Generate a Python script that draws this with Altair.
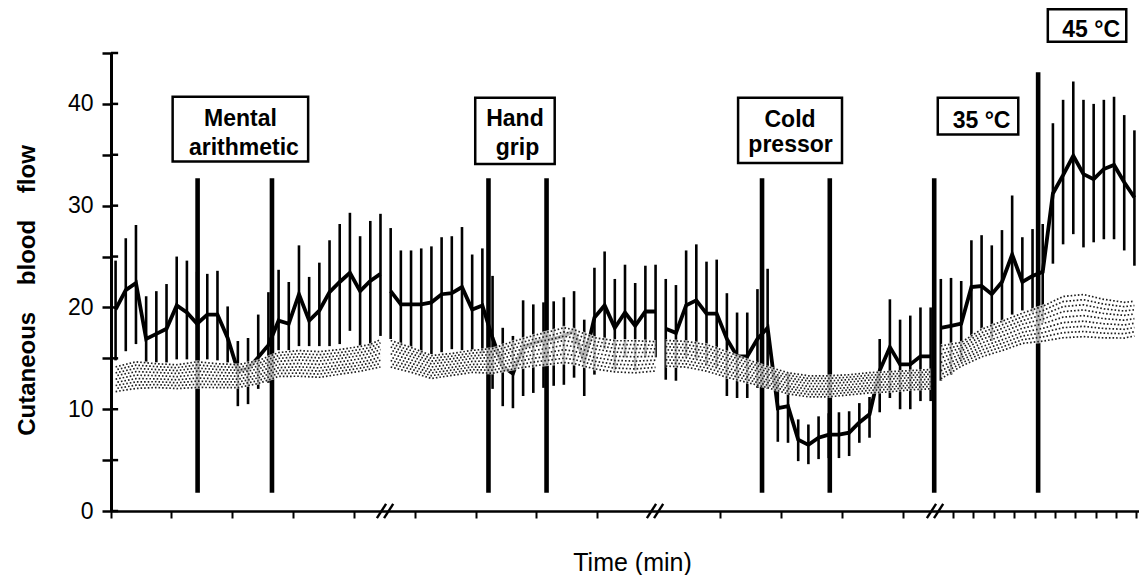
import altair as alt
import pandas as pd

# ---------------- data ----------------
sample = list(range(101))
segment = [1] * 27 + [2] * 27 + [3] * 27 + [4] * 20

mean_flow = [19.8, 21.7, 22.4, 16.9, 17.4, 17.9, 20.2, 19.5, 18.4, 19.3,
             19.3, 17.0, 13.8, 14.0, 15.1, 16.3, 18.7, 18.4, 21.3, 18.7,
             19.7, 21.5, 22.5, 23.4, 21.6, 22.6, 23.3,
             21.6, 20.3, 20.3, 20.3, 20.5, 21.3, 21.4, 22.0, 19.8, 20.2,
             17.0, 14.2, 13.5, 16.1, 16.5, 16.8, 16.9, 17.2, 17.7, 14.7,
             19.0, 20.2, 18.0, 19.5, 18.2, 19.6, 19.6,
             17.9, 17.5, 20.2, 20.7, 19.4, 19.4, 16.9, 15.2, 15.2, 16.9,
             18.0, 10.1, 10.3, 7.0, 6.5, 7.2, 7.5, 7.5, 7.7, 8.7,
             9.5, 13.8, 16.1, 14.4, 14.4, 15.2, 15.2,
             18.0, 18.2, 18.4, 22.0, 22.1, 21.3, 22.5, 25.2, 22.5, 23.1,
             23.5, 31.2, 33.0, 34.9, 33.1, 32.6, 33.6, 34.0, 32.3, 30.8]

err_high = [24.6, 26.8, 28.1, 21.1, 21.6, 22.3, 25.0, 24.6, 23.5, 23.3,
            23.6, 20.1, 16.7, 17.0, 19.3, 21.5, 23.7, 22.5, 26.1, 23.0,
            24.4, 26.6, 28.2, 29.3, 27.0, 28.5, 29.2,
            27.8, 25.6, 25.6, 25.8, 26.0, 26.9, 27.0, 27.9, 25.2, 25.8,
            23.1, 18.0, 17.2, 20.7, 20.3, 20.5, 20.6, 21.0, 21.6, 18.8,
            23.9, 25.5, 22.8, 24.2, 22.4, 24.1, 24.2,
            22.8, 22.2, 25.6, 26.2, 24.5, 24.7, 21.4, 19.5, 19.5, 21.8,
            23.8, 13.4, 13.6, 9.0, 8.5, 9.3, 9.6, 9.7, 9.8, 10.6,
            11.2, 16.9, 20.8, 18.8, 19.2, 20.0, 20.0,
            22.8, 22.9, 22.6, 26.6, 27.1, 26.1, 27.6, 31.0, 26.9, 27.7,
            28.2, 38.1, 40.4, 42.2, 40.4, 40.0, 40.4, 40.7, 38.9, 37.4]

err_low = [14.8, 15.7, 16.4, 14.6, 14.6, 14.6, 14.9, 14.9, 13.8, 14.9,
           14.8, 14.6, 10.3, 10.5, 12.0, 12.6, 15.8, 15.8, 16.2, 16.2,
           16.2, 16.2, 16.4, 17.7, 16.2, 16.2, 17.2,
           16.9, 16.2, 16.1, 15.4, 15.4, 15.6, 15.9, 15.8, 15.8, 15.5,
           12.0, 10.3, 10.1, 11.3, 11.6, 12.1, 12.3, 12.4, 13.1, 11.3,
           13.4, 15.9, 13.8, 15.1, 13.8, 15.1, 15.1,
           12.9, 12.8, 15.1, 14.9, 14.3, 14.1, 11.3, 11.1, 11.1, 12.1,
           12.0, 6.8, 6.7, 4.9, 4.6, 5.1, 5.2, 5.2, 5.4, 6.7,
           7.2, 9.7, 11.1, 10.0, 10.0, 10.8, 10.8,
           12.8, 13.4, 14.7, 17.0, 17.9, 16.7, 18.5, 19.3, 19.7, 19.5,
           18.5, 24.3, 26.2, 27.2, 25.9, 26.4, 26.7, 26.7, 25.6, 24.1]

# reference (stippled) band
band_sample = [0, 2, 4, 6, 8, 10, 12, 14, 16, 18, 20, 22, 24, 25, 26,
               27, 29, 31, 33, 35, 37, 39, 41, 43, 44, 45, 47, 49, 51, 53,
               54, 56, 58, 60, 62, 64, 66, 68, 70, 72, 74, 76, 78, 80,
               81, 83, 85, 87, 89, 91, 93, 95, 97, 99, 100]
band_segment = [1] * 15 + [2] * 15 + [3] * 14 + [4] * 11
band_high = [14.3, 14.8, 14.6, 14.5, 14.8, 14.6, 14.5, 14.9, 15.7, 15.9, 15.8, 16.0, 16.3, 16.5, 17.0,
             16.9, 16.2, 15.4, 15.6, 15.9, 16.1, 16.8, 17.4, 17.9, 18.2, 18.0, 17.2, 16.9, 16.9, 16.8,
             16.9, 16.8, 16.5, 15.8, 15.0, 14.3, 13.7, 13.4, 13.4, 13.5, 13.7, 13.8, 13.9, 14.0,
             16.4, 16.7, 18.0, 18.8, 19.6, 20.3, 21.3, 21.5, 21.0, 20.7, 20.8]
band_low = [11.6, 11.9, 12.0, 11.9, 12.0, 12.0, 12.0, 12.4, 13.1, 13.1, 13.0, 13.3, 13.6, 13.8, 14.0,
            14.0, 13.5, 12.9, 13.2, 13.5, 13.4, 13.8, 14.1, 14.3, 14.4, 14.3, 13.8, 13.5, 13.4, 13.6,
            14.1, 14.0, 13.6, 13.0, 12.5, 12.0, 11.4, 11.1, 11.1, 11.3, 11.5, 11.6, 11.8, 11.9,
            12.8, 14.1, 15.0, 15.6, 16.3, 16.5, 16.8, 16.9, 16.8, 16.8, 17.0]

# event markers (start / end of each manoeuvre)
event_sample = [8.05, 15.35, 36.6, 42.3, 63.45, 70.1, 80.35, 90.55]
event_top = [32.7, 32.7, 32.7, 32.7, 32.7, 32.7, 32.7, 43.1]
event_bottom = [1.8, 1.8, 1.8, 1.8, 1.8, 1.8, 1.8, 1.8]

# annotation boxes
box_x1 = [5.6, 35.3, 61.1, 80.7, 91.5]
box_x2 = [18.9, 43.1, 71.3, 88.6, 99.2]
box_y1 = [34.35, 34.1, 34.2, 37.0, 46.1]
box_y2 = [40.7, 40.6, 40.6, 40.6, 49.3]

text_lines = ["Mental", "arithmetic", "Hand", "grip", "Cold", "pressor", "35 °C", "45 °C"]
text_x = [12.25, 12.6, 39.2, 39.45, 66.2, 66.25, 85.0, 95.75]
text_y = [37.8, 35.0, 37.8, 35.0, 37.7, 35.3, 37.6, 46.6]

x_ticks = [-0.45, 5.4, 11.4, 17.4, 23.4, 29.4, 35.4, 41.3, 47.3, 59.3, 65.3, 71.3, 77.3,
           82.2, 84.2, 86.2, 88.2, 90.2, 92.2, 94.2, 96.2, 98.2, 100.2]
y_ticks = [0, 5, 10, 15, 20, 25, 30, 35, 40, 45]
break_sample = [26.45, 52.95, 80.43]

# ---------------- tables ----------------
df = pd.DataFrame({"sample": sample, "seg": segment, "flow": mean_flow,
                   "hi": err_high, "lo": err_low})
band = pd.DataFrame({"sample": band_sample, "seg": band_segment,
                     "flow": band_low, "hi": band_high})
events = pd.DataFrame({"sample": event_sample, "flow": event_bottom, "top": event_top})
boxes = pd.DataFrame({"sample": box_x1, "x2": box_x2, "flow": box_y1, "y2": box_y2})
texts = pd.DataFrame({"sample": text_x, "flow": text_y, "txt": text_lines})
yt = pd.DataFrame({"flow": y_ticks})
brk = pd.DataFrame({"b": break_sample})

FONT = "Liberation Sans"

xscale = alt.Scale(domain=[-0.45, 100.45], nice=False, zero=False)
yscale = alt.Scale(domain=[0, 45], nice=False, zero=False)

xaxis = alt.Axis(values=x_ticks, labels=False, tickSize=7, tickWidth=2, domainWidth=2.5,
                 grid=False, title="Time (min)", titleFontSize=25, titleFontWeight="normal",
                 titleX=521, titleY=59, titleBaseline="alphabetic", titleAlign="center")
yaxis = alt.Axis(values=y_ticks, labelExpr="datum.value % 10 === 0 ? datum.label : ''",
                 tickSize=9, tickWidth=2.5, domainWidth=3, labelFontSize=23, labelPadding=9,
                 labelFlush=False, grid=False,
                 title="Cutaneous\u00a0\u00a0\u00a0\u00a0blood\u00a0\u00a0\u00a0\u00a0flow",
                 titleFontSize=24, titleFontWeight="bold", titleAngle=270,
                 titleX=-84, titleY=237, titleAlign="center", titleBaseline="middle")


def X(field="sample"):
    return alt.X(f"{field}:Q", scale=xscale, axis=xaxis)


def Y(field="flow"):
    return alt.Y(f"{field}:Q", scale=yscale, axis=yaxis)


errbars = alt.Chart(df).mark_rule(color="black", strokeWidth=2.6).encode(
    x=X(), y=Y("lo"), y2="hi:Q")

event_lines = alt.Chart(events).mark_rule(color="black", strokeWidth=4.6).encode(
    x=X(), y=Y(), y2="top:Q")

mean_line = alt.Chart(df).mark_line(color="black", strokeWidth=3.8).encode(
    x=X(), y=Y(), detail="seg:N")

band_fill = alt.Chart(band).mark_area(color="white", opacity=0.72).encode(
    x=X(), y=Y(), y2="hi:Q", detail="seg:N")

stipple = []
fracs = [0.05, 0.16, 0.27, 0.38, 0.5, 0.62, 0.73, 0.84, 0.95]
for i, f in enumerate(fracs):
    stipple.append(
        alt.Chart(band).transform_calculate(
            ys=f"datum.flow + {f} * (datum.hi - datum.flow)"
        ).mark_line(color="#1e1e1e", strokeWidth=1.7, strokeDash=[1.6, 2.0],
                    strokeDashOffset=(1.8 if i % 2 else 0)).encode(
            x=X(), y=Y("ys"), detail="seg:N")
    )

box_rects = alt.Chart(boxes).mark_rect(fill="white", stroke="black", strokeWidth=2.5).encode(
    x=X(), x2="x2:Q", y=Y(), y2="y2:Q")

box_text = alt.Chart(texts).mark_text(font=FONT, fontSize=23, fontWeight="bold",
                                      align="center", baseline="alphabetic", color="black").encode(
    x=X(), y=Y(), text="txt:N")

inner_ticks = alt.Chart(yt).mark_rule(color="black", strokeWidth=2.5).encode(
    x=alt.X("datum_x:Q", scale=xscale, axis=xaxis), x2="datum_x2:Q", y=Y()
).transform_calculate(datum_x="-0.45", datum_x2="0.25")

slashes = []
for off in (-0.35, 0.35):
    slashes.append(
        alt.Chart(brk).transform_calculate(
            sx=f"datum.b + {off} - 0.45", sx2=f"datum.b + {off} + 0.45",
            sy="-0.7", sy2="0.7"
        ).mark_rule(color="black", strokeWidth=2.4).encode(
            x=X("sx"), x2="sx2:Q", y=Y("sy"), y2="sy2:Q")
    )

chart = alt.layer(
    errbars, event_lines, mean_line, band_fill, *stipple,
    box_rects, box_text, inner_ticks, *slashes
).properties(
    width=1028, height=458,
    autosize=alt.AutoSizeParams(type="none"),
    padding={"left": 103, "top": 45, "right": 0, "bottom": 64},
).configure_axis(
    labelFont=FONT, titleFont=FONT, labelColor="black", titleColor="black",
    domainColor="black", tickColor="black"
).configure_view(stroke="transparent")

chart.save("out.html", embed_options={"renderer": "svg", "actions": False})
